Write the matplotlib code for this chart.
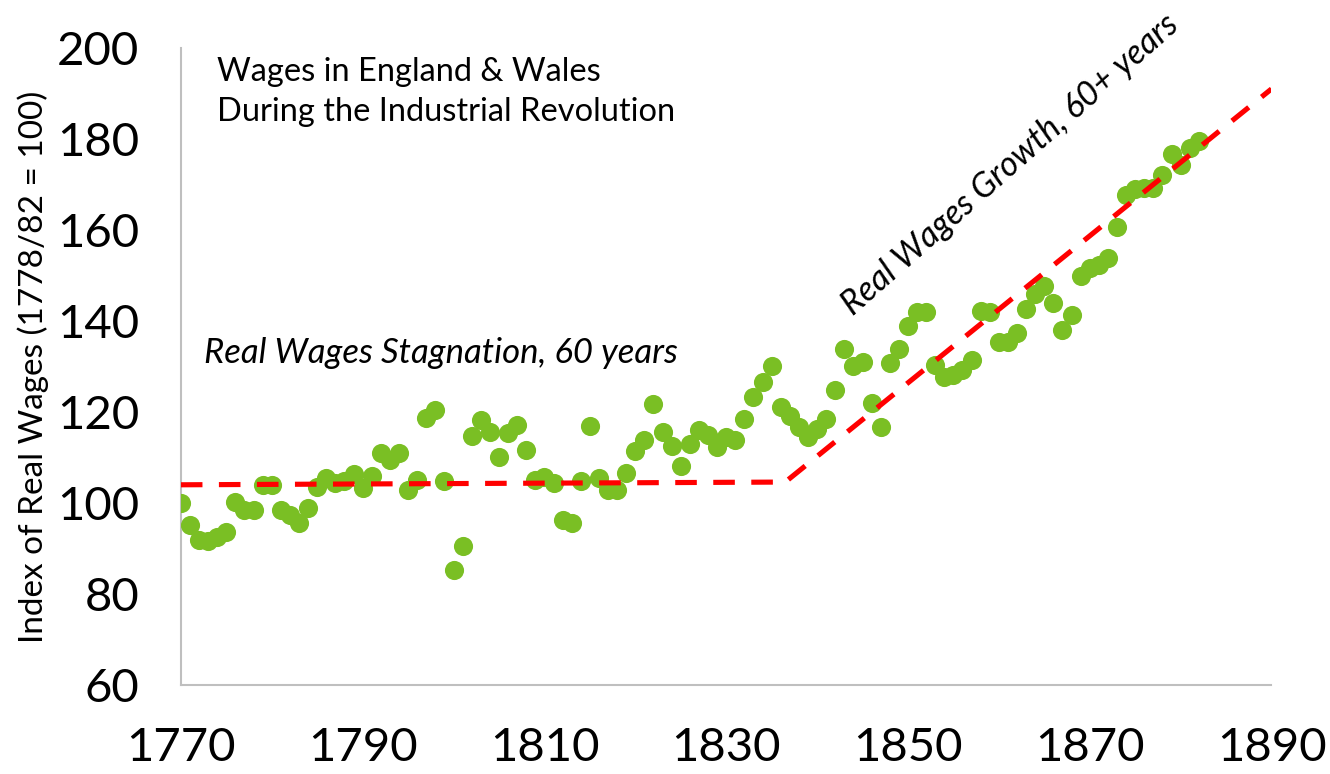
import numpy as np
import matplotlib.pyplot as plt

plt.rcParams['font.family'] = ['Lato', 'DejaVu Sans']

# real wage index, one point per year
years = list(range(1770, 1883))
wages = [100, 95.2, 91.9, 91.6, 92.5, 93.6, 100.2, 98.5, 98.5, 104, 104,
         98.5, 97.4, 95.6, 98.9, 103.5, 105.5, 104.4, 104.8, 106.4, 103.3,
         105.9, 111, 109.5, 111, 102.9, 105, 118.7, 120.4, 104.8, 85.3,
         90.5, 114.7, 118.2, 115.6, 110.1, 115.4, 117.1, 111.6, 105, 105.7,
         104.4, 96.3, 95.6, 104.8, 116.9, 105.5, 102.9, 102.9, 106.6, 111.4,
         113.8, 121.8, 115.6, 112.5, 108.1, 112.9, 116, 114.9, 112.3, 114.5,
         113.8, 118.5, 123.3, 126.6, 130.1, 121.1, 119.1, 116.7, 114.5, 116.3,
         118.5, 124.8, 133.8, 130.1, 131, 122, 116.7, 130.8, 133.8, 138.9,
         142, 142, 130.3, 127.7, 128.1, 129.2, 131.4, 142.2, 142, 135.4,
         135.4, 137.4, 142.6, 145.9, 147.7, 144, 138, 141.3, 149.9, 151.6,
         152.3, 153.8, 160.7, 167.7, 169, 169.2, 169.2, 172.1, 176.7, 174.3,
         178, 179.6]

# trend lines: stagnation then growth
trend_x = [1770, 1836.5, 1890]
trend_y = [104, 104.6, 191]

fig = plt.figure(figsize=(13.3, 7.74), dpi=100)
ax = fig.add_axes([0.136, 0.115, 0.82, 0.823])

ax.scatter(years, wages, s=190, color='#7ABF24', zorder=3, linewidths=0)
ax.plot(trend_x, trend_y, color='#FF0000', lw=3.7, dashes=(4.2, 3.2), zorder=4)

ax.set_xlim(1770, 1890)
ax.set_ylim(60, 200)
ax.set_xticks(range(1770, 1891, 20))
ax.set_yticks(range(60, 201, 20))
for s in ['top', 'right']:
    ax.spines[s].set_visible(False)
for s in ['left', 'bottom']:
    ax.spines[s].set_color('#BFBFBF')
    ax.spines[s].set_linewidth(1.5)
ax.tick_params(length=0, labelsize=34)
ax.tick_params(axis='x', pad=30)
ax.tick_params(axis='y', pad=30)
ax.set_ylabel('Index of Real Wages (1778/82 = 100)', fontsize=24, labelpad=6)

ax.text(0.033, 0.986, 'Wages in England & Wales\nDuring the Industrial Revolution',
        transform=ax.transAxes, fontsize=23.5, va='top', linespacing=1.4)
ax.text(1772.5, 133, 'Real Wages Stagnation, 60 years', fontsize=25,
        style='italic', va='center')
ax.text(1861.2, 174.3, 'Real Wages Growth, 60+ years', fontsize=24.5,
        style='italic', rotation=41.4, ha='center', va='center',
        rotation_mode='anchor')

fig.savefig('out.png', dpi=100)
